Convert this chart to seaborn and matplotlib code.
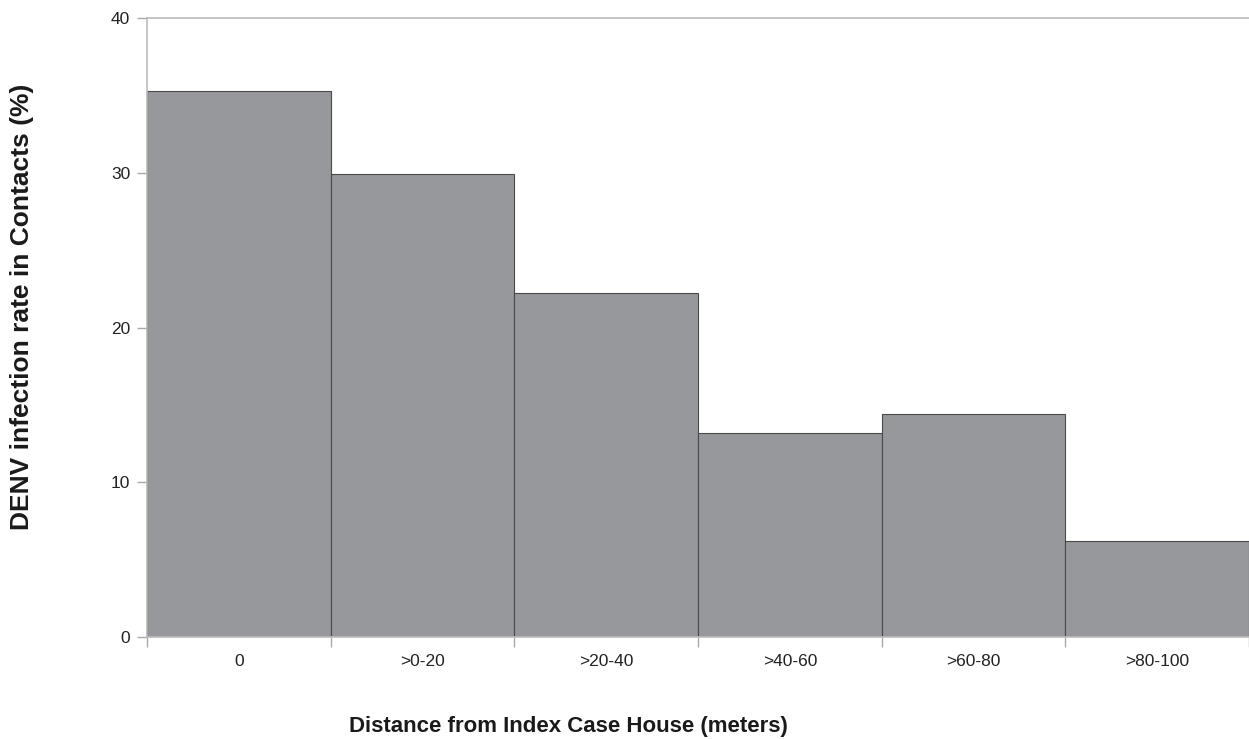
import pandas as pd
import matplotlib
matplotlib.use("Agg")
import matplotlib.pyplot as plt
import seaborn as sns
from matplotlib.ticker import FixedLocator

distance = ['0', '>0-20', '>20-40', '>40-60', '>60-80', '>80-100']
rate = [35.3, 29.9, 22.2, 13.2, 14.4, 6.2]

df = pd.DataFrame({'Distance': distance, 'Rate': rate})

sns.set_style("white")
plt.rcParams['font.family'] = ['Liberation Sans', 'DejaVu Sans']

fig = plt.figure(figsize = (12.49, 7.39), dpi = 100)
ax = fig.add_axes([147/1249, 102/739, 1 - 147/1249, (637-18)/739])

sns.barplot(data = df, x = 'Distance', y = 'Rate', color = '#97989c',
            width = 1.0, edgecolor = '#4a4a4a', linewidth = 0.8,
            saturation = 1, ax = ax)

ax.set_xlim(-0.5, len(distance) - 0.5)
ax.set_ylim(0, 40)
ax.set_yticks([0, 10, 20, 30, 40])

# tick marks sit between categories, labels at the centres
ax.xaxis.set_minor_locator(FixedLocator([i - 0.5 for i in range(len(distance) + 1)]))
ax.tick_params(axis = 'x', which = 'major', length = 0, pad = 12, labelsize = 12.5, labelcolor = '#222222')
ax.tick_params(axis = 'x', which = 'minor', bottom = True, length = 7, width = 1, color = '#aaaaaa')
ax.tick_params(axis = 'y', left = True, length = 7, width = 1, color = '#aaaaaa', pad = 5,
               labelsize = 12.5, labelcolor = '#222222')

for side in ['left', 'bottom', 'top']:
    ax.spines[side].set_color('#bbbbbb')
    ax.spines[side].set_linewidth(1.2)
ax.spines['right'].set_visible(False)

ax.set_xlabel('Distance from Index Case House (meters)', fontsize = 16, fontweight = 'bold',
              color = '#1a1a1a')
ax.set_ylabel('DENV infection rate in Contacts (%)', fontsize = 19, fontweight = 'bold',
              color = '#1a1a1a')
ax.xaxis.set_label_coords(0.382, -0.127)
ax.yaxis.set_label_coords(-0.1025, 0.533)

fig.savefig('out.png', dpi = 100)
